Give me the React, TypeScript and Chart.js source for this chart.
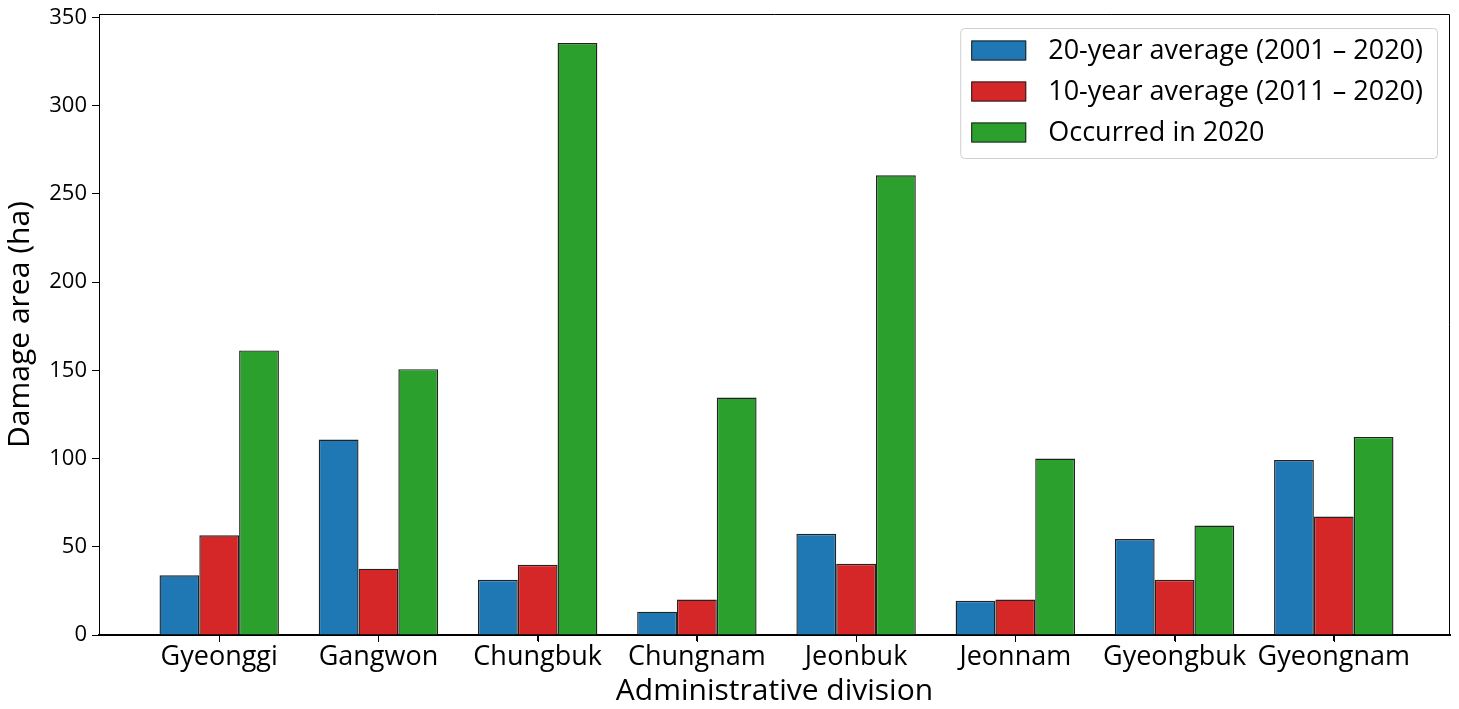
import React, { useEffect, useRef } from "react";
import { Chart, registerables } from "chart.js";

Chart.register(...registerables);

const categories = ["Gyeonggi", "Gangwon", "Chungbuk", "Chungnam", "Jeonbuk", "Jeonnam", "Gyeongbuk", "Gyeongnam"];
const avg20 = [33.8, 110.8, 31.3, 13.2, 57.4, 19.4, 54.4, 99.2];
const avg10 = [56.5, 37.6, 39.8, 20.1, 40.4, 20.1, 31.3, 67.1];
const occurred2020 = [161.3, 150.7, 335.5, 134.6, 260.6, 100.0, 62.0, 112.3];
const seriesLabels = ["20-year average (2001 \u2013 2020)", "10-year average (2011 \u2013 2020)", "Occurred in 2020"];
const seriesColors = ["#1f77b4", "#d62728", "#2ca02c"];
const yTicks = [0, 50, 100, 150, 200, 250, 300, 350];
const yTitle = "Damage area (ha)";
const xTitle = "Administrative division";

const FONT = "'Open Sans', 'Noto Sans', 'DejaVu Sans', sans-serif";

export default function App() {
  const ref = useRef<HTMLCanvasElement>(null);

  useEffect(() => {
    document.body.style.margin = "0";
    document.body.style.overflow = "hidden";
    const canvas = ref.current;
    if (!canvas) return;

    const seriesValues = [avg20, avg10, occurred2020];

    const framePlugin = {
      id: "frameAndLegend",
      afterDraw(chart: any) {
        const ctx = chart.ctx as CanvasRenderingContext2D;
        const ca = chart.chartArea;
        const xs = chart.scales.x;
        ctx.save();
        // top and right spines
        ctx.strokeStyle = "#000";
        ctx.lineWidth = 1;
        ctx.beginPath();
        ctx.moveTo(ca.left, ca.top + 0.5);
        ctx.lineTo(ca.right - 0.5, ca.top + 0.5);
        ctx.lineTo(ca.right - 0.5, ca.bottom);
        ctx.stroke();

        // x tick marks at category centres
        ctx.beginPath();
        categories.forEach((_, i) => {
          const px = Math.round(xs.getPixelForValue(i)) + 0.5;
          ctx.moveTo(px, ca.bottom);
          ctx.lineTo(px, ca.bottom + 7);
        });
        ctx.stroke();

        // legend
        ctx.font = `27px ${FONT}`;
        const padL = 11;
        const patchW = 55;
        const patchH = 20;
        const gap = 22;
        const padR = 14;
        const rowH = 41;
        let maxW = 0;
        seriesLabels.forEach((t) => {
          maxW = Math.max(maxW, ctx.measureText(t).width);
        });
        const boxW = padL + patchW + gap + maxW + padR;
        const boxH = 130;
        const boxRight = ca.right - 13;
        const boxLeft = boxRight - boxW;
        const boxTop = ca.top + 14;
        ctx.beginPath();
        (ctx as any).roundRect(boxLeft + 0.5, boxTop + 0.5, boxW, boxH, 4);
        ctx.fillStyle = "rgba(255,255,255,0.8)";
        ctx.fill();
        ctx.strokeStyle = "#d0d0d0";
        ctx.lineWidth = 1;
        ctx.stroke();

        seriesLabels.forEach((t, i) => {
          const py = boxTop + 12.5 + i * rowH;
          const px = boxLeft + padL;
          ctx.fillStyle = seriesColors[i];
          ctx.fillRect(px, py, patchW, patchH);
          ctx.strokeStyle = "#222";
          ctx.lineWidth = 1;
          ctx.strokeRect(px + 0.5, py + 0.5, patchW - 1, patchH - 1);
          ctx.fillStyle = "#000";
          ctx.textAlign = "left";
          ctx.textBaseline = "middle";
          ctx.fillText(t, px + patchW + gap, py + patchH / 2 + 1);
        });
        ctx.restore();
      },
    };

    const chart = new Chart(canvas, {
      type: "bar",
      data: {
        datasets: seriesValues.map((vals, i) => ({
          label: seriesLabels[i],
          data: vals.map((v, j) => ({ x: j, y: v })),
          backgroundColor: seriesColors[i],
          borderColor: "#222",
          borderWidth: 1.4,
          categoryPercentage: 0.75,
          barPercentage: 1.0,
        })),
      },
      options: {
        responsive: false,
        animation: false,
        devicePixelRatio: 1,
        events: [],
        layout: { padding: { left: 0, top: 14, right: 9, bottom: 0 } },
        plugins: {
          legend: { display: false },
          tooltip: { enabled: false },
          title: { display: false },
        },
        scales: {
          x: {
            type: "linear",
            min: -0.755,
            max: 7.73,
            offset: false,
            afterBuildTicks: (axis: any) => {
              axis.ticks = categories.map((_, i) => ({ value: i }));
            },
            afterFit: (axis: any) => {
              axis.height = 74;
              axis.paddingLeft = 0;
              axis.paddingRight = 0;
            },
            ticks: {
              callback: (v: any) => categories[Math.round(Number(v))] ?? "",
              font: { family: FONT, size: 27 },
              color: "#000",
              padding: 0,
              autoSkip: false,
              maxRotation: 0,
              minRotation: 0,
            },
            grid: {
              display: true,
              offset: false,
              drawOnChartArea: false,
              drawTicks: true,
              tickLength: 6,
              color: "#000",
              lineWidth: 1,
            },
            border: { display: true, color: "#000", width: 2 },
            title: {
              display: true,
              text: xTitle,
              font: { family: FONT, size: 30 },
              color: "#000",
              padding: { top: 0, bottom: 0 },
            },
          },
          y: {
            type: "linear",
            min: 0,
            max: 352,
            afterBuildTicks: (axis: any) => {
              axis.ticks = yTicks.map((v) => ({ value: v }));
            },
            afterFit: (axis: any) => {
              axis.width = 99;
              axis.paddingTop = 0;
              axis.paddingBottom = 0;
            },
            ticks: {
              font: { family: FONT, size: 22 },
              color: "#000",
              padding: 5,
            },
            grid: {
              display: true,
              offset: false,
              drawOnChartArea: false,
              drawTicks: true,
              tickLength: 7,
              color: "#000",
              lineWidth: 1,
            },
            border: { display: true, color: "#000", width: 1 },
            title: {
              display: true,
              text: yTitle,
              font: { family: FONT, size: 30 },
              color: "#000",
              padding: { top: 2, bottom: 2 },
            },
          },
        },
      },
      plugins: [framePlugin],
    } as any);

    return () => {
      chart.destroy();
    };
  }, []);

  return (
    <div style={{ width: 1459, height: 709, background: "#fff" }}>
      <canvas ref={ref} width={1459} height={709} style={{ display: "block" }} />
    </div>
  );
}
